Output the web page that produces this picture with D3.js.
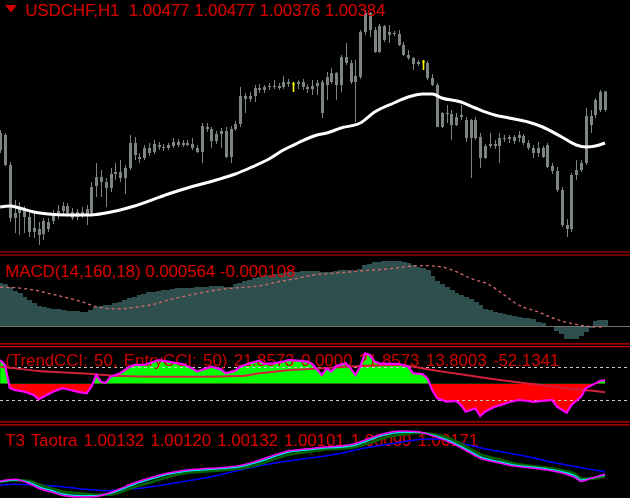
<!DOCTYPE html>
<html><head><meta charset="utf-8">
<script src="https://cdn.jsdelivr.net/npm/d3@7/dist/d3.min.js"></script>
<style>
html,body{margin:0;padding:0;background:#000;}
svg{display:block;}
text{font-family:"Liberation Sans",Arial,sans-serif;white-space:pre;}
</style></head>
<body>
<svg id="chart" width="630" height="498"></svg>
<script>
// ---------- DATA ----------
const symbolTitle = "USDCHF,H1  1.00477 1.00477 1.00376 1.00384";
const macdTitle = "MACD(14,160,18) 0.000564 -0.000108";
const cciTitle = "(TrendCCI: 50, EntryCCI: 50) 21.8573 0.0000 21.8573 13.8003 -52.1341";
const t3Title = "T3 Taotra 1.00132 1.00120 1.00132 1.00101 1.00099 1.00171";

const open = [1.00184,1.00259,1.00109,0.99844,0.99869,0.99894,0.99849,0.99774,0.99789,0.99764,
0.99789,0.99829,0.99859,0.99879,0.99904,0.99874,0.99849,0.99874,0.99859,0.99869,
1.00004,1.00049,1.00024,0.99994,1.00064,1.00074,1.00044,1.00094,1.00219,1.00149,
1.00144,1.00194,1.00174,1.00209,1.00199,1.00194,1.00204,1.00224,1.00209,1.00219,
1.00214,1.00194,1.00174,1.00299,1.00289,1.00229,1.00264,1.00279,1.00149,1.00289,
1.00314,1.00454,1.00439,1.00454,1.00494,1.00484,1.00499,1.00504,1.00504,1.00499,
1.00524,1.00514,1.00514,1.00524,1.00499,1.00489,1.00504,1.00524,1.00509,1.00524,
1.00569,1.00509,1.00649,1.00619,1.00524,1.00549,1.00774,1.00869,1.00784,1.00674,
1.00804,1.00759,1.00769,1.00764,1.00709,1.00659,1.00644,1.00614,1.00624,1.00619,
1.00544,1.00509,1.00299,1.00369,1.00364,1.00309,1.00349,1.00334,1.00244,1.00334,
1.00249,1.00144,1.00204,1.00214,1.00204,1.00244,1.00239,1.00249,1.00244,1.00254,
1.00219,1.00194,1.00169,1.00194,1.00209,1.00104,1.00079,0.99984,0.99809,0.99789,
1.00059,1.00084,1.00119,1.00354,1.00359,1.00384,1.00477];
const high = [1.00284,1.00269,1.00124,0.99934,0.99924,0.99904,0.99874,0.99869,0.99824,0.99844,
0.99844,0.99884,0.99909,0.99924,0.99919,0.99894,0.99889,0.99899,0.99909,1.00024,
1.00119,1.00084,1.00044,1.00094,1.00119,1.00134,1.00109,1.00259,1.00249,1.00169,
1.00209,1.00219,1.00234,1.00224,1.00214,1.00219,1.00244,1.00239,1.00234,1.00234,
1.00244,1.00209,1.00319,1.00319,1.00299,1.00279,1.00294,1.00299,1.00304,1.00329,
1.00499,1.00469,1.00474,1.00509,1.00514,1.00509,1.00519,1.00534,1.00519,1.00554,
1.00539,1.00524,1.00534,1.00539,1.00514,1.00534,1.00534,1.00534,1.00574,1.00594,
1.00574,1.00659,1.00719,1.00634,1.00634,1.00784,1.00884,1.00874,1.00799,1.00814,
1.00809,1.00809,1.00779,1.00784,1.00724,1.00684,1.00649,1.00634,1.00634,1.00629,
1.00564,1.00519,1.00374,1.00409,1.00384,1.00369,1.00409,1.00349,1.00339,1.00349,
1.00269,1.00214,1.00269,1.00234,1.00269,1.00259,1.00259,1.00259,1.00279,1.00264,
1.00234,1.00209,1.00224,1.00204,1.00219,1.00119,1.00099,0.99999,0.99839,1.00069,
1.00134,1.00134,1.00394,1.00384,1.00444,1.00484,1.00477];
const low = [1.00169,1.00104,0.99824,0.99769,0.99759,0.99769,0.99749,0.99744,0.99709,0.99734,
0.99774,0.99814,0.99839,0.99854,0.99859,0.99834,0.99834,0.99844,0.99809,0.99854,
0.99949,0.99949,0.99899,0.99974,1.00034,1.00024,0.99964,1.00084,1.00134,1.00119,
1.00134,1.00154,1.00164,1.00184,1.00179,1.00184,1.00194,1.00199,1.00199,1.00204,
1.00184,1.00169,1.00119,1.00274,1.00194,1.00214,1.00194,1.00144,1.00119,1.00279,
1.00299,1.00369,1.00424,1.00424,1.00469,1.00469,1.00484,1.00489,1.00484,1.00489,
1.00499,1.00474,1.00489,1.00484,1.00469,1.00459,1.00459,1.00344,1.00434,1.00514,
1.00434,1.00474,1.00609,1.00514,1.00324,1.00539,1.00759,1.00749,1.00669,1.00669,
1.00724,1.00719,1.00754,1.00704,1.00654,1.00634,1.00584,1.00604,1.00584,1.00534,
1.00504,1.00299,1.00294,1.00319,1.00234,1.00304,1.00334,1.00224,1.00044,1.00234,
1.00094,1.00139,1.00194,1.00189,1.00119,1.00224,1.00219,1.00214,1.00224,1.00209,
1.00184,1.00144,1.00149,1.00144,1.00094,1.00064,0.99974,0.99799,0.99749,0.99774,
1.00034,1.00074,1.00109,1.00269,1.00344,1.00374,1.00376];
const close = [1.00269,1.00109,0.99844,0.99869,0.99894,0.99849,0.99774,0.99794,0.99759,0.99829,
0.99824,0.99859,0.99879,0.99904,0.99869,0.99844,0.99874,0.99859,0.99889,0.99999,
1.00049,1.00024,0.99994,1.00064,1.00074,1.00044,1.00094,1.00219,1.00159,1.00139,
1.00194,1.00169,1.00214,1.00199,1.00194,1.00209,1.00224,1.00209,1.00219,1.00209,
1.00194,1.00174,1.00304,1.00289,1.00229,1.00264,1.00279,1.00149,1.00289,1.00314,
1.00454,1.00439,1.00454,1.00494,1.00484,1.00499,1.00504,1.00499,1.00494,1.00524,
1.00514,1.00514,1.00524,1.00499,1.00489,1.00504,1.00519,1.00369,1.00549,1.00569,
1.00509,1.00649,1.00619,1.00524,1.00554,1.00774,1.00869,1.00784,1.00674,1.00804,
1.00734,1.00774,1.00764,1.00709,1.00659,1.00644,1.00614,1.00624,1.00624,1.00544,
1.00509,1.00299,1.00369,1.00364,1.00309,1.00349,1.00359,1.00244,1.00334,1.00244,
1.00144,1.00204,1.00214,1.00204,1.00244,1.00239,1.00249,1.00229,1.00259,1.00219,
1.00194,1.00169,1.00194,1.00149,1.00099,1.00079,0.99984,0.99809,0.99789,1.00059,
1.00084,1.00119,1.00354,1.00309,1.00434,1.00474,1.00384];

// moving average (white line), sampled at bar indices
const maIdx = [0,2,4,7,10,14,17,19,22,28,35,39,42,45,49,52,56,59,62,66,68,71,75,78,82,85,88,90,92,96,99,103,106,110,113,117,120,122,124,126];
const maVal = [0.99899,0.99904,0.99894,0.99874,0.99864,0.99859,0.99859,0.99859,0.99869,0.99904,0.99964,0.99994,1.00014,1.00034,1.00064,1.00094,1.00139,1.00184,1.00219,1.00259,1.00269,1.00294,1.00319,1.00374,1.00419,1.00449,1.00464,1.00464,1.00444,1.00424,1.00394,1.00359,1.00344,1.00324,1.00299,1.00249,1.00209,1.00199,1.00204,1.00219];

// MACD histogram (one per bar) and signal line
const macdHist = [0.00404,0.00395,0.00367,0.00329,0.00310,0.00273,0.00244,0.00216,0.00188,0.00179,
0.00169,0.00160,0.00160,0.00150,0.00141,0.00141,0.00141,0.00136,0.00132,0.00150,
0.00179,0.00188,0.00197,0.00197,0.00216,0.00226,0.00244,0.00263,0.00273,0.00291,
0.00301,0.00320,0.00322,0.00329,0.00338,0.00338,0.00348,0.00357,0.00357,0.00357,
0.00357,0.00362,0.00367,0.00367,0.00376,0.00379,0.00376,0.00369,0.00369,0.00395,
0.00404,0.00423,0.00432,0.00451,0.00463,0.00470,0.00479,0.00489,0.00489,0.00498,
0.00508,0.00508,0.00510,0.00517,0.00517,0.00517,0.00512,0.00508,0.00508,0.00510,
0.00517,0.00526,0.00526,0.00526,0.00517,0.00536,0.00573,0.00583,0.00602,0.00604,
0.00606,0.00611,0.00614,0.00611,0.00602,0.00588,0.00573,0.00557,0.00545,0.00526,
0.00470,0.00423,0.00395,0.00367,0.00338,0.00310,0.00291,0.00273,0.00254,0.00226,
0.00197,0.00160,0.00150,0.00132,0.00122,0.00113,0.00099,0.00094,0.00085,0.00075,
0.00071,0.00061,0.00038,0.00024,0.00002,-0.00005,-0.00047,-0.00075,-0.00122,-0.00122,
-0.00122,-0.00094,-0.00056,-0.00019,0.00047,0.00056,0.000564];
const sigIdx = [0,3,7,10,13,17,20,22,25,28,32,35,38,42,45,48,52,55,58,62,65,68,72,75,78,82,85,88,92,95,98,102,105,108,112,115,118,122,126];
const sigVal = [0.00364,0.00360,0.00338,0.00307,0.00275,0.00228,0.00181,0.00166,0.00160,0.00176,0.00204,0.00244,0.00275,0.00313,0.00338,0.00354,0.00367,0.00385,0.00416,0.00448,0.00479,0.00492,0.00505,0.00517,0.00526,0.00542,0.00561,0.00567,0.00555,0.00510,0.00448,0.00385,0.00291,0.00197,0.00134,0.00078,0.00035,0.00000,-0.000108];

// CCI panel
const cciIdx = [0,1,2,3,5,7,8,9,11,13,14,16,18,19,20,21,22,23,25,27,28,30,32,33,35,37,38,40,41,43,44,46,47,49,50,52,54,55,57,59,60,62,64,65,67,68,69,70,72,73,74,75,76,77,78,79,81,83,85,86,88,89,90,91,93,95,96,97,99,100,101,103,105,106,108,110,111,113,115,116,118,119,121,122,124,125,126];
const cciVal = [145,115,-26,-39,-49,-69,-96,-80,-49,-28,-34,-49,-59,-18,53,12,6,43,64,104,115,115,135,145,135,125,121,94,74,94,104,88,64,80,104,125,141,121,125,135,145,141,135,121,53,94,74,108,125,94,53,104,186,176,135,125,121,121,104,64,59,33,-39,-89,-110,-106,-131,-172,-151,-198,-172,-141,-124,-114,-100,-106,-112,-106,-100,-141,-178,-131,-80,-28,2,18,21.8573];
const entIdx = [0,3,8,17,25,33,42,50,54,59,67,75,83,90,97,104,111,118,123,126];
const entVal = [104,94,78,64,47,43,43,47,64,80,94,108,115,84,53,23,-2,-28,-42,-52.1341];
const cciLevels = [100,-100];

// T3 panel
const t3Idx = [0,3,6,8,11,13,17,20,23,25,28,32,35,38,42,47,50,54,57,60,64,67,71,74,77,80,84,87,90,94,97,100,104,107,110,114,117,120,121,123,126];
const t3Cyan = [1.00017,1.00043,1.00008,0.99940,0.99874,0.99828,0.99802,0.99802,0.99839,0.99889,0.99977,1.00069,1.00131,1.00171,1.00197,1.00223,1.00248,1.00325,1.00401,1.00469,1.00505,1.00531,1.00546,1.00581,1.00658,1.00735,1.00777,1.00777,1.00735,1.00632,1.00520,1.00401,1.00325,1.00274,1.00248,1.00212,1.00171,1.00094,1.00043,1.00069,1.00120];
const t3Magenta = [1.00025,1.00055,0.99990,0.99915,0.99850,0.99805,0.99782,0.99790,0.99850,0.99910,1.00000,1.00092,1.00150,1.00190,1.00215,1.00240,1.00268,1.00348,1.00424,1.00490,1.00522,1.00548,1.00565,1.00605,1.00684,1.00758,1.00795,1.00785,1.00725,1.00610,1.00497,1.00378,1.00305,1.00257,1.00232,1.00195,1.00150,1.00070,1.00020,1.00065,1.00132];
const t3Green = [1.00010,1.00040,1.00030,0.99975,0.99910,0.99865,0.99835,0.99815,0.99815,0.99855,0.99935,1.00020,1.00090,1.00140,1.00170,1.00195,1.00218,1.00285,1.00360,1.00430,1.00475,1.00505,1.00523,1.00550,1.00615,1.00690,1.00745,1.00765,1.00750,1.00670,1.00560,1.00440,1.00360,1.00300,1.00268,1.00232,1.00195,1.00125,1.00070,1.00060,1.00101];
const blueIdx = [0,3,8,13,17,22,25,29,33,38,44,50,57,64,70,75,80,85,89,92,96,100,105,110,115,121,126];
const blueVal = [0.99966,0.99977,0.99966,0.99940,0.99905,0.99879,0.99889,0.99915,0.99955,1.00017,1.00094,1.00197,1.00300,1.00377,1.00438,1.00520,1.00581,1.00643,1.00674,1.00674,1.00608,1.00540,1.00469,1.00401,1.00315,1.00232,1.00171];

// ---------- DRAW ----------
const svg = d3.select("#chart");
const W = 630, H = 498;
svg.append("rect").attr("width", W).attr("height", H).attr("fill", "#000");

const nBars = open.length;
const x = d3.scaleLinear().domain([0, nBars - 1]).range([0.2, 605]);
const step = x(1) - x(0);

const yP = d3.scaleLinear().domain([0.99684, 1.00934]).range([250, 0]);
const yM = d3.scaleLinear().domain([-0.00160, 0.00667]).range([343, 255]);
const yC = d3.scaleLinear().domain([-235, 225]).range([422, 347]);
const yT = d3.scaleLinear().domain([0.99766, 1.00889]).range([498, 425]);

const RED = "#d40000";
const candleCol = "#7c8581";
const FS = 16.8;

// ----- main panel -----
const main = svg.append("g");
const bars = d3.range(nBars).map(i => ({i, o: open[i], h: high[i], l: low[i], c: close[i]}));
main.selectAll("line.wick").data(bars).enter().append("line")
  .attr("x1", d => Math.round(x(d.i)) + 0.5).attr("x2", d => Math.round(x(d.i)) + 0.5)
  .attr("y1", d => yP(d.h)).attr("y2", d => yP(d.l))
  .attr("stroke", d => d.o === d.c ? "#ffff00" : candleCol)
  .attr("stroke-width", d => d.o === d.c ? 1.6 : 1);
main.selectAll("rect.body").data(bars).enter().append("rect")
  .attr("x", d => Math.round(x(d.i)) - 1)
  .attr("width", 3)
  .attr("y", d => yP(Math.max(d.o, d.c)) - (d.o === d.c ? 0.5 : 0))
  .attr("height", d => Math.max(1, Math.abs(yP(d.o) - yP(d.c))))
  .attr("fill", d => d.o === d.c ? "#ffff00" : candleCol);

const maPts = maIdx.map((k, j) => [k, maVal[j]]);
main.append("path").datum(maPts)
  .attr("d", d3.line().x(d => x(d[0])).y(d => yP(d[1])).curve(d3.curveMonotoneX))
  .attr("fill", "none").attr("stroke", "#fff").attr("stroke-width", 3);

main.append("path").attr("d", "M5,5 L17,5 L11,12.5 Z").attr("fill", RED);
main.append("text").attr("x", 25).attr("y", 15.5).attr("font-size", FS).attr("fill", RED).text(symbolTitle);

// ----- MACD panel -----
const macd = svg.append("g").attr("shape-rendering", "crispEdges");
macd.selectAll("rect.h").data(macdHist).enter().append("rect")
  .attr("x", (d, i) => Math.floor(x(i) - step / 2))
  .attr("width", Math.ceil(step) + 1)
  .attr("y", d => Math.min(yM(d), yM(0)))
  .attr("height", d => Math.abs(yM(d) - yM(0)))
  .attr("fill", "#2f4f4f");
macd.append("line").attr("x1", 0).attr("x2", W).attr("y1", Math.round(yM(0)) + 0.5).attr("y2", Math.round(yM(0)) + 0.5)
  .attr("stroke", "#6f6f6f").attr("stroke-width", 1);
const sigPts = sigIdx.map((k, j) => [k, sigVal[j]]);
svg.append("path").datum(sigPts)
  .attr("d", d3.line().x(d => x(d[0])).y(d => yM(d[1])).curve(d3.curveMonotoneX))
  .attr("fill", "none").attr("stroke", "#d86a6a").attr("stroke-width", 1.3).attr("stroke-dasharray", "3,3");
svg.append("text").attr("x", 5).attr("y", 277).attr("font-size", FS).attr("fill", RED).text(macdTitle);

// ----- CCI panel -----
const cci = svg.append("g");
const defs = svg.append("defs");
defs.append("clipPath").attr("id", "cAbove").append("rect").attr("x", 0).attr("y", 347).attr("width", W).attr("height", yC(0) - 347);
defs.append("clipPath").attr("id", "cBelow").append("rect").attr("x", 0).attr("y", yC(0)).attr("width", W).attr("height", 422 - yC(0));
const cciPts = cciIdx.map((k, j) => [k, cciVal[j]]);
const cciArea = d3.area().x(d => x(d[0])).y0(yC(0)).y1(d => yC(d[1]));
cci.append("path").datum(cciPts).attr("d", cciArea).attr("fill", "#00ff00").attr("clip-path", "url(#cAbove)");
cci.append("path").datum(cciPts).attr("d", cciArea).attr("fill", "#ff0000").attr("clip-path", "url(#cBelow)");
cci.selectAll("line.lvl").data(cciLevels).enter().append("line")
  .attr("x1", 0).attr("x2", W).attr("y1", d => Math.round(yC(d)) + 0.5).attr("y2", d => Math.round(yC(d)) + 0.5)
  .attr("stroke", "#c8c8c8").attr("stroke-width", 1).attr("stroke-dasharray", "3,3");
cci.append("text").attr("x", 5).attr("y", 366).attr("font-size", FS).attr("word-spacing", 1.8).attr("fill", "#c40000").text(cciTitle);
const entPts = entIdx.map((k, j) => [k, entVal[j]]);
cci.append("path").datum(entPts)
  .attr("d", d3.line().x(d => x(d[0])).y(d => yC(d[1])).curve(d3.curveMonotoneX))
  .attr("fill", "none").attr("stroke", "#d0203c").attr("stroke-width", 2);
cci.append("path").datum(cciPts)
  .attr("d", d3.line().x(d => x(d[0])).y(d => yC(d[1])))
  .attr("fill", "none").attr("stroke", "#ff00ff").attr("stroke-width", 2.2);

// ----- T3 panel -----
const t3 = svg.append("g");
t3.append("text").attr("x", 5).attr("y", 445.5).attr("font-size", FS).attr("word-spacing", 1.5).attr("fill", RED).text(t3Title);
const lineT = d3.line().x(d => x(d[0])).y(d => yT(d[1])).curve(d3.curveMonotoneX);
t3.append("path").datum(blueIdx.map((k, j) => [k, blueVal[j]])).attr("d", lineT)
  .attr("fill", "none").attr("stroke", "#0000ff").attr("stroke-width", 1.5);
t3.append("path").datum(t3Idx.map((k, j) => [k, t3Green[j]])).attr("d", lineT)
  .attr("fill", "none").attr("stroke", "#006400").attr("stroke-width", 2.5);
t3.append("path").datum(t3Idx.map((k, j) => [k, t3Cyan[j]])).attr("d", lineT)
  .attr("fill", "none").attr("stroke", "#00e5e5").attr("stroke-width", 1.5);
t3.append("path").datum(t3Idx.map((k, j) => [k, t3Magenta[j]])).attr("d", lineT)
  .attr("fill", "none").attr("stroke", "#ff00ff").attr("stroke-width", 1.5);

// ----- separators -----
const sepY = [252, 255, 343.8, 346.6, 421.8, 424.8];
svg.selectAll("line.sep").data(sepY).enter().append("line")
  .attr("x1", 0).attr("x2", W).attr("y1", d => d).attr("y2", d => d)
  .attr("stroke", "#d00000").attr("stroke-width", 1.2);
</script>
</body></html>
